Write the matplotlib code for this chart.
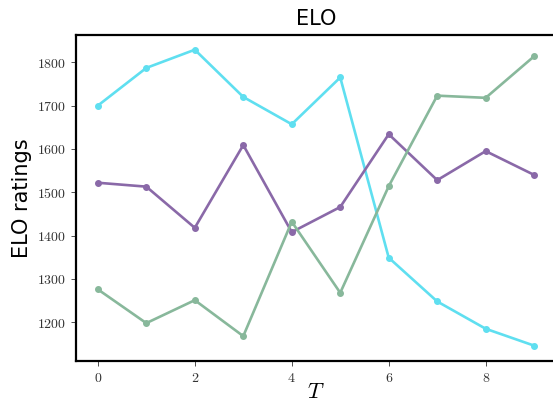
import matplotlib
matplotlib.use("Agg")
import matplotlib.pyplot as plt
from matplotlib.ticker import FuncFormatter

plt.rcParams['mathtext.fontset'] = 'cm'
plt.rcParams['font.family'] = ['DejaVu Sans']

T = list(range(10))
cyan_vals = [1700, 1787, 1829, 1720, 1657, 1765, 1349, 1248, 1185, 1146]
purple_vals = [1522, 1513, 1418, 1609, 1408, 1466, 1634, 1528, 1595, 1540]
green_vals = [1276, 1198, 1251, 1168, 1432, 1268, 1514, 1723, 1718, 1814]

fig = plt.figure(figsize=(5.53, 4.07), dpi=100)
ax = fig.add_axes([76/553, 46/407, 480/553, 326/407])

ax.plot(T, cyan_vals, color="#5fdff0", lw=1.9, marker="o", ms=4)
ax.plot(T, purple_vals, color="#8a69a8", lw=1.9, marker="o", ms=4)
ax.plot(T, green_vals, color="#88b89b", lw=1.9, marker="o", ms=4)

ax.set_xlim(-0.45, 9.45)
ax.set_ylim(1110.6, 1863)
ax.set_xticks([0, 2, 4, 6, 8])
ax.set_yticks([1200, 1300, 1400, 1500, 1600, 1700, 1800])
fmt = FuncFormatter(lambda v, p: r"$%d$" % v)
ax.xaxis.set_major_formatter(fmt)
ax.yaxis.set_major_formatter(fmt)
ax.tick_params(labelsize=10, length=3.5, width=0.6, colors="#333333")
for s in ax.spines.values():
    s.set_linewidth(1.6)

ax.set_title("ELO", fontsize=15, pad=7)
ax.set_ylabel("ELO ratings", fontsize=15)
ax.set_xlabel(r"$T$", fontsize=16, labelpad=-2)

fig.savefig("out.png", dpi=100)
